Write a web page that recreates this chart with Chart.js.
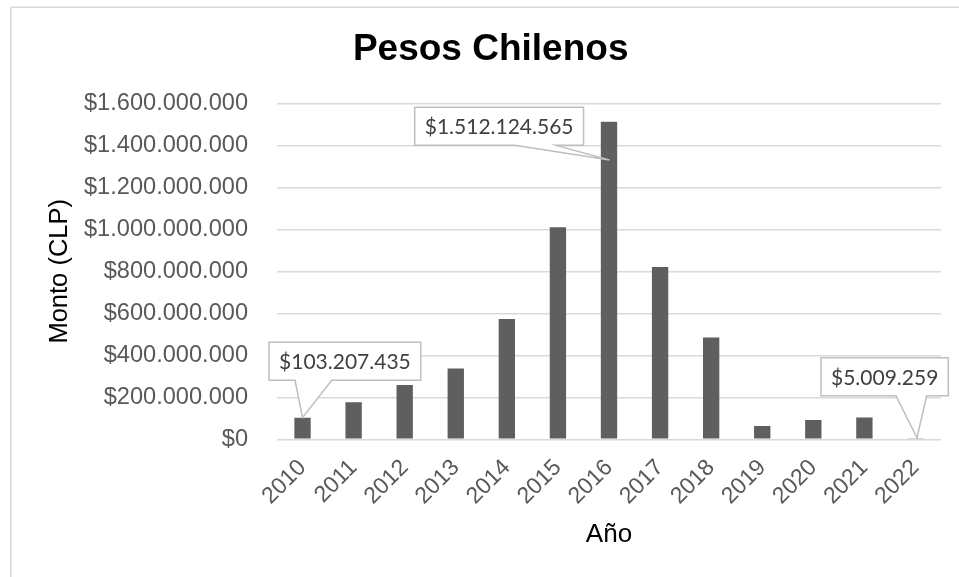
<!DOCTYPE html>
<html>
<head>
<meta charset="utf-8">
<title>Pesos Chilenos</title>
<script src="https://cdn.jsdelivr.net/npm/chart.js@4.4.1/dist/chart.umd.min.js"></script>
<style>
  html, body { margin: 0; padding: 0; background: #fff; }
  canvas { display: block; }
</style>
</head>
<body>
<canvas id="myChart" width="959" height="577"></canvas>
<script>
// montos anuales en pesos chilenos
const years = ['2010', '2011', '2012', '2013', '2014', '2015', '2016', '2017', '2018', '2019', '2020', '2021', '2022'];
const montos = [103207435, 176000000, 258000000, 337000000, 573000000, 1010000000, 1512124565, 820000000, 485000000, 63000000, 92000000, 104000000, 5009259];
const labeledYears = ['2010', '2016', '2022'];
const yMax = 1600000000;
const yStep = 200000000;

const fmt = (v) => '$' + String(Math.round(v)).replace(/\B(?=(\d{3})+(?!\d))/g, '.');

// cuadro + línea guía de cada etiqueta, relativo a la barra
const calloutGeom = {
  '2010': { dx: -33.5, dy: -75.3, b1: -7.5, b2: 29.2, tipDx: 0, tipDy: 0 },
  '2016': { dx: -194.3, dy: -14.4, b1: -94, b2: -53, tipDx: 0.5, tipDy: 38.3 },
  '2022': { dx: -94.5, dy: -80.5, b1: -19.5, b2: 11.2, tipDx: 1.5, tipDy: -0.5 }
};

const frame = {
  id: 'frame',
  beforeDraw(chart) {
    const ctx = chart.ctx;
    ctx.save();
    ctx.fillStyle = '#fff';
    ctx.fillRect(0, 0, chart.width, chart.height);
    ctx.strokeStyle = '#d9d9d9';
    ctx.lineWidth = 1.5;
    ctx.beginPath();
    ctx.moveTo(10.75, chart.height);
    ctx.lineTo(10.75, 7.3);
    ctx.lineTo(chart.width, 7.3);
    ctx.stroke();
    ctx.restore();
  }
};

const callouts = {
  id: 'callouts',
  afterDatasetsDraw(chart) {
    const { ctx, scales: { x, y } } = chart;
    ctx.save();
    ctx.font = '21px Lato';
    ctx.textBaseline = 'middle';
    ctx.textAlign = 'left';
    labeledYears.forEach((yr) => {
      const i = years.indexOf(yr);
      const g = calloutGeom[yr];
      const cx = x.getPixelForValue(i);
      const top = y.getPixelForValue(montos[i]);
      const text = fmt(montos[i]);
      const pad = 10;
      const w = ctx.measureText(text).width + pad * 2;
      const h = 38;
      const bx = cx + g.dx;
      const by = top + g.dy;
      ctx.beginPath();
      ctx.moveTo(bx, by);
      ctx.lineTo(bx + w, by);
      ctx.lineTo(bx + w, by + h);
      ctx.lineTo(cx + g.b2, by + h);
      ctx.lineTo(cx + g.tipDx, top + g.tipDy);
      ctx.lineTo(cx + g.b1, by + h);
      ctx.lineTo(bx, by + h);
      ctx.closePath();
      ctx.fillStyle = '#fff';
      ctx.fill();
      ctx.strokeStyle = '#bfbfbf';
      ctx.lineWidth = 1.5;
      ctx.stroke();
      ctx.fillStyle = '#404040';
      ctx.fillText(text, bx + pad, by + h / 2 + 1);
    });
    ctx.restore();
  }
};

const ctx = document.getElementById('myChart');

new Chart(ctx, {
  type: 'bar',
  data: {
    labels: years,
    datasets: [{
      label: 'Monto (CLP)',
      data: montos,
      backgroundColor: '#5f5f5f',
      categoryPercentage: 1,
      barPercentage: 0.32
    }]
  },
  options: {
    responsive: false,
    animation: false,
    layout: { padding: { left: 40.4, top: 8, right: 18, bottom: 0 } },
    plugins: {
      legend: { display: false },
      tooltip: { enabled: false },
      title: {
        display: true,
        text: 'Pesos Chilenos',
        color: '#000',
        font: { family: 'Liberation Sans', size: 37, weight: 'bold' },
        padding: { top: 19.5, bottom: 31.4 }
      }
    },
    scales: {
      x: {
        grid: { display: false },
        border: { display: false },
        ticks: {
          color: '#595959',
          font: { family: 'Liberation Sans', size: 23 },
          autoSkip: false,
          minRotation: 45,
          maxRotation: 45,
          padding: 7
        },
        title: {
          display: true,
          text: 'Año',
          color: '#000',
          font: { family: 'Liberation Sans', size: 26 },
          padding: { top: 0, bottom: 26.4 }
        },
        afterFit(scale) { scale.height = 137.7; }
      },
      y: {
        min: 0,
        max: yMax,
        grid: { color: '#d9d9d9', lineWidth: 1.5, drawTicks: false },
        border: { display: false },
        ticks: {
          stepSize: yStep,
          color: '#595959',
          font: { family: 'Liberation Sans', size: 23.6 },
          padding: 29,
          callback: (v) => fmt(v)
        },
        title: {
          display: true,
          text: 'Monto (CLP)',
          color: '#000',
          font: { family: 'Liberation Sans', size: 25.5 },
          padding: { top: 4.3, bottom: 0 }
        },
        afterFit(scale) { scale.width = 277 - 40.4; }
      }
    }
  },
  plugins: [frame, callouts]
});
</script>
</body>
</html>
